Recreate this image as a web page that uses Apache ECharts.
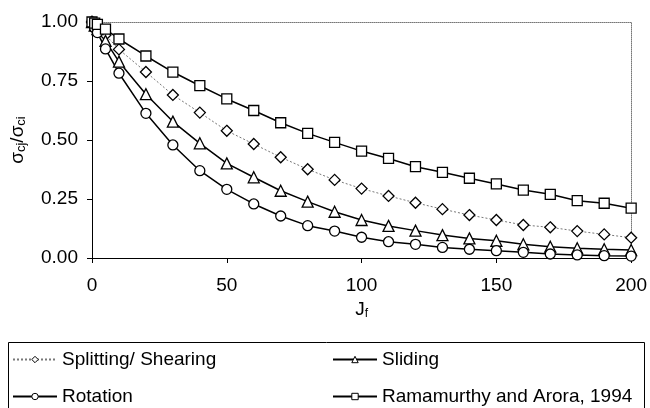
<!DOCTYPE html>
<html>
<head>
<meta charset="utf-8">
<script src="https://cdn.jsdelivr.net/npm/echarts@6/dist/echarts.min.js"></script>
<style>html,body{margin:0;padding:0;background:#fff}#c{width:650px;height:408px}</style>
</head>
<body>
<div id="c"></div>
<script>
var xValues = [0,1,2,5,10,20,30,40,50,60,70,80,90,100,110,120,130,140,150,160,170,180,190,200];
var splitting = [1.0,0.99,0.98,0.945,0.884,0.788,0.691,0.616,0.539,0.483,0.427,0.376,0.331,0.294,0.263,0.234,0.207,0.182,0.161,0.140,0.130,0.114,0.100,0.086];
var sliding = [1.0,0.985,0.97,0.92,0.832,0.694,0.578,0.486,0.401,0.342,0.285,0.239,0.196,0.161,0.136,0.116,0.097,0.083,0.073,0.058,0.048,0.041,0.037,0.034];
var rotation = [1.0,0.975,0.955,0.886,0.783,0.613,0.479,0.370,0.291,0.229,0.178,0.137,0.114,0.088,0.069,0.058,0.045,0.037,0.031,0.024,0.017,0.013,0.010,0.008];
var ramamurthy = [1.0,0.995,0.99,0.97,0.928,0.856,0.788,0.730,0.674,0.625,0.573,0.528,0.490,0.453,0.422,0.387,0.363,0.338,0.314,0.288,0.270,0.243,0.232,0.211];
var seriesNames = ['Splitting/ Shearing','Sliding','Rotation','Ramamurthy and Arora, 1994'];
var xTicks = [0,50,100,150,200];
var yTicks = [0,0.25,0.5,0.75,1.0];

function pairs(ys){ return xValues.map(function(x,i){ return [x, ys[i]]; }); }
var FONT = 'Liberation Sans';
var FS = 19;
var chart = echarts.init(document.getElementById('c'), null, {renderer:'canvas'});

function mkSeries(name, ys, symbol, size, lineStyle){
  return {
    name: name, type: 'line', data: pairs(ys), xAxisIndex: 0, yAxisIndex: 0,
    symbol: symbol, symbolSize: size, showAllSymbol: true,
    itemStyle: {color: '#fff', borderColor: '#000', borderWidth: 1.3},
    lineStyle: lineStyle, animation: false, z: 3
  };
}
function mkLegend(name, left, top){
  return {
    data: [{name: name, itemStyle: {color: '#fff', borderColor: '#000', borderWidth: 1}}],
    left: left, top: top, padding: 0,
    itemWidth: 44, itemHeight: 8, itemGap: 4,
    textStyle: {fontFamily: FONT, fontSize: FS, color: '#000'},
    selectedMode: false
  };
}

var option = {
  backgroundColor: '#fff',
  animation: false,
  grid: {left: 92, right: 18, top: 22, bottom: 150},
  xAxis: [{
    type: 'value', min: 0, max: 200, interval: 50, position: 'bottom',
    name: '{m|J}{s|f}', nameLocation: 'middle', nameGap: 40,
    nameTextStyle: {rich: {m: {fontFamily: FONT, fontSize: FS, color: '#000'}, s: {fontFamily: FONT, fontSize: 12, color: '#000', padding: [9,0,0,0]}}},
    axisLine: {onZero: false, lineStyle: {color: '#000', width: 1}},
    axisTick: {show: true, inside: false, length: 5, lineStyle: {color: '#000'}},
    axisLabel: {fontFamily: FONT, fontSize: FS, color: '#000', margin: 18,
      customValues: xTicks, formatter: function(v){ return String(v); }},
    splitLine: {show: false}
  },{
    type: 'value', min: 0, max: 200, position: 'top',
    axisLine: {show: true, onZero: false, lineStyle: {color: '#777', width: 1, type: [1,1]}},
    axisTick: {show: false}, axisLabel: {show: false}, splitLine: {show: false}
  }],
  yAxis: [{
    type: 'value', min: 0, max: 1, interval: 0.25, position: 'left',
    name: '{m|σ}{s|cj}{m|/σ}{s|ci}', nameLocation: 'middle', nameGap: 64, nameRotate: 90,
    nameTextStyle: {rich: {m: {fontFamily: FONT, fontSize: FS, color: '#000'}, s: {fontFamily: FONT, fontSize: 13, color: '#000', padding: [7,0,0,0]}}},
    axisLine: {show: true, onZero: false, lineStyle: {color: '#000', width: 1}},
    axisTick: {show: true, inside: false, length: 5, lineStyle: {color: '#000'}},
    axisLabel: {fontFamily: FONT, fontSize: FS, color: '#000', margin: 14,
      formatter: function(v){ return v.toFixed(2); }},
    splitLine: {show: false}
  },{
    type: 'value', min: 0, max: 1, position: 'right',
    axisLine: {show: true, onZero: false, lineStyle: {color: '#777', width: 1, type: [1,1]}},
    axisTick: {show: false}, axisLabel: {show: false}, splitLine: {show: false}
  }],
  legend: [
    mkLegend(seriesNames[0], 12, 350),
    mkLegend(seriesNames[1], 332, 350),
    mkLegend(seriesNames[2], 12, 387),
    mkLegend(seriesNames[3], 332, 387)
  ],
  graphic: [{
    type: 'rect', shape: {x: 8.5, y: 342.5, width: 636, height: 80},
    style: {fill: 'none', stroke: '#000', lineWidth: 1}, silent: true
  }],
  series: [
    mkSeries(seriesNames[0], splitting, 'diamond', 11, {color: '#777', width: 1, type: [2,2]}),
    mkSeries(seriesNames[1], sliding, 'triangle', 11, {color: '#000', width: 1.5}),
    mkSeries(seriesNames[2], rotation, 'circle', 10, {color: '#000', width: 1.5}),
    mkSeries(seriesNames[3], ramamurthy, 'rect', 10, {color: '#000', width: 1.5})
  ]
};
chart.setOption(option);
</script>
</body>
</html>
